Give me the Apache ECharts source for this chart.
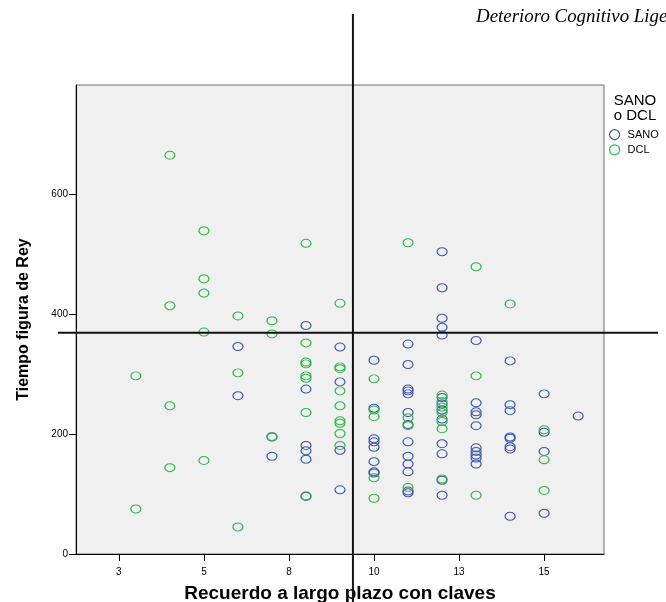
<!DOCTYPE html>
<html>
<head>
<meta charset="utf-8">
<script src="https://cdn.jsdelivr.net/npm/echarts@6/dist/echarts.min.js"></script>
<style>
  html, body { margin: 0; padding: 0; background: #fff; }
  #chart { width: 666px; height: 602px; }
</style>
</head>
<body>
<div id="chart"></div>
<script>
// Recall scores (x) and, for each score, the Rey figure times of each group
const recallScores = [3, 4, 5, 6, 7, 8, 9, 10, 11, 12, 13, 14, 15, 16];

const sanoTimes = [
  [],
  [],
  [],
  [346, 264],
  [195, 163],
  [381, 275, 181, 172, 158, 96],
  [345, 287, 173, 107],
  [323, 243, 192, 187, 178, 154, 137, 135],
  [350, 316, 275, 272, 267, 236, 216, 187, 163, 150, 137, 105, 102],
  [504, 444, 393, 378, 365, 261, 250, 240, 225, 184, 167, 123, 98],
  [356, 252, 237, 232, 214, 177, 171, 165, 160, 150],
  [322, 249, 239, 195, 193, 179, 175, 63],
  [267, 203, 171, 68],
  [230]
];

const dclTimes = [
  [297, 75],
  [665, 414, 247, 144],
  [539, 459, 435, 370, 156],
  [397, 302, 45],
  [389, 367, 196],
  [518, 352, 320, 317, 297, 293, 236, 97],
  [418, 312, 309, 272, 247, 222, 218, 201, 181],
  [292, 240, 229, 127, 93],
  [519, 227, 214, 111],
  [265, 254, 245, 236, 221, 209, 125],
  [479, 297, 98],
  [417],
  [207, 157, 106],
  []
];

// Axis ticks (SPSS rounds the 2.5-step ticks for display)
const xTickValues = [2.5, 5, 7.5, 10, 12.5, 15];
const xTickLabels = ['3', '5', '8', '10', '13', '15'];
const yTickValues = [0, 200, 400, 600];
const yTickLabels = ['0', '200', '400', '600'];

// Axis ranges and the two reference lines (cut points)
const xRange = [1.24, 16.76];
const yRange = [0, 782];
const refRecall = 9.38;
const refTime = 369;

const groupNames = ['SANO', 'DCL'];
const groupColors = ['#3e58ac', '#2eb848'];

function toPoints(times) {
  const pts = [];
  times.forEach((list, i) => list.forEach(t => pts.push([recallScores[i], t])));
  return pts;
}

const chart = echarts.init(document.getElementById('chart'), null, { renderer: 'canvas' });
const font = 'Liberation Sans, Arial, sans-serif';

const seriesData = [toPoints(sanoTimes), toPoints(dclTimes)];

const option = {
  animation: false,
  backgroundColor: '#ffffff',
  grid: {
    left: 76, right: 62, top: 85, bottom: 48,
    outerBoundsMode: 'none',
    containLabel: false,
    show: true,
    backgroundColor: '#f0f0f0',
    borderColor: '#6e6e6e',
    borderWidth: 1
  },
  xAxis: {
    type: 'value',
    min: xRange[0],
    max: xRange[1],
    name: 'Recuerdo a largo plazo con claves',
    nameLocation: 'middle',
    nameGap: 30,
    nameTextStyle: { fontFamily: font, fontSize: 19, fontWeight: 'bold', color: '#000' },
    splitLine: { show: false },
    axisLine: { show: true, onZero: false, lineStyle: { color: '#000', width: 1 } },
    axisTick: { show: true, length: 7, lineStyle: { color: '#000' }, customValues: xTickValues },
    axisLabel: {
      customValues: xTickValues,
      formatter: v => xTickLabels[xTickValues.indexOf(v)],
      fontFamily: font, fontSize: 10, color: '#000', margin: 13
    }
  },
  yAxis: {
    type: 'value',
    min: yRange[0],
    max: yRange[1],
    name: 'Tiempo figura de Rey',
    nameLocation: 'middle',
    nameGap: 44,
    nameTextStyle: { fontFamily: font, fontSize: 16, fontWeight: 'bold', color: '#000' },
    splitLine: { show: false },
    axisLine: { show: true, onZero: false, lineStyle: { color: '#000', width: 1 } },
    axisTick: { show: true, length: 7, lineStyle: { color: '#000' }, customValues: yTickValues },
    axisLabel: {
      customValues: yTickValues,
      formatter: v => yTickLabels[yTickValues.indexOf(v)],
      fontFamily: font, fontSize: 10, color: '#000', margin: 8
    }
  },
  legend: {
    orient: 'vertical',
    left: 609,
    top: 129,
    padding: 0,
    itemGap: 4,
    itemWidth: 12,
    itemHeight: 10,
    textStyle: { fontFamily: font, fontSize: 11, color: '#000', padding: [0, 0, 0, 2] },
    data: groupNames.map((n, i) => ({
      name: n,
      icon: 'circle',
      itemStyle: { color: 'transparent', borderColor: groupColors[i], borderWidth: 1.2 }
    }))
  },
  series: groupNames.map((n, i) => ({
    name: n,
    type: 'scatter',
    symbol: 'circle',
    symbolSize: [10, 8],
    itemStyle: { color: 'transparent', borderColor: groupColors[i], borderWidth: 1.1, opacity: 1 },
    emphasis: { disabled: true },
    data: seriesData[i]
  }))
};

chart.setOption(option);

// Reference lines drawn past the plot frame, plus legend title and header
const corner = chart.convertToPixel({ gridIndex: 0 }, [refRecall, refTime]);
chart.setOption({
  graphic: [
    {
      type: 'line', silent: true, z: 50,
      shape: { x1: corner[0], y1: 14, x2: corner[0], y2: 602 },
      style: { stroke: '#111', lineWidth: 2 }
    },
    {
      type: 'line', silent: true, z: 50,
      shape: { x1: 58, y1: corner[1], x2: 658, y2: corner[1] },
      style: { stroke: '#111', lineWidth: 2 }
    },
    {
      type: 'text', silent: true, x: 635, y: 93,
      style: {
        text: 'SANO\no DCL', textAlign: 'center', textVerticalAlign: 'top',
        font: '15px ' + font, lineHeight: 15, fill: '#000'
      }
    },
    {
      type: 'text', silent: true, x: 476, y: 8, scaleX: 1.05,
      style: {
        text: 'Deterioro Cognitivo Ligero', textAlign: 'left', textVerticalAlign: 'alphabetic',
        font: 'italic 18px Liberation Serif, Times New Roman, serif', fill: '#000'
      }
    }
  ]
});
</script>
</body>
</html>
